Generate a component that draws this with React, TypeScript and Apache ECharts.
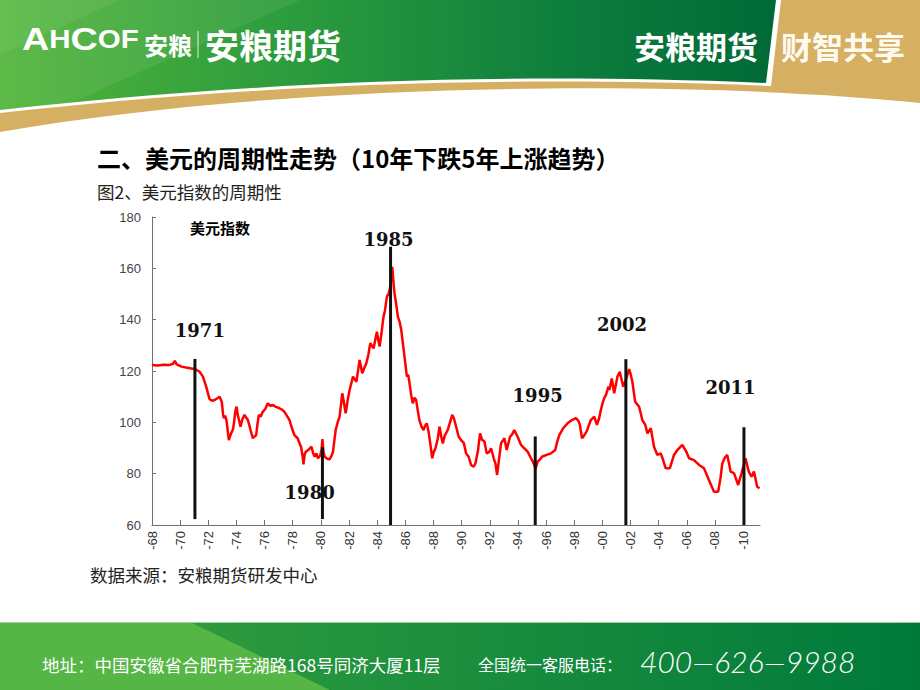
import React, { useEffect, useRef } from "react";
import * as echarts from "echarts";

// ---------- data ----------
const xTickLabels = ["-68","-70","-72","-74","-76","-78","-80","-82","-84","-86","-88","-90","-92","-94","-96","-98","-00","-02","-04","-06","-08","-10"];
const xFirstYear = 1968;
const xLastYear = 2011.2;
const yMin = 60;
const yMax = 180;
const yStep = 20;

const dxy1968to1979: [number, number][] = [
  [1968.0,122.3],[1968.4,122.1],[1968.8,122.4],[1969.2,122.3],[1969.5,122.8],[1969.62,124.0],[1969.75,122.6],[1970.1,121.7],[1970.5,121.3],[1970.8,121.0],
  [1971.05,120.8],[1971.38,119.7],[1971.62,117.8],[1971.85,113.9],[1972.09,109.0],[1972.3,108.4],[1972.45,108.7],[1972.65,109.4],[1972.8,110.0],[1972.96,108.0],
  [1973.05,103.0],[1973.11,101.6],[1973.2,102.6],[1973.3,100.5],[1973.46,93.1],[1973.55,94.6],[1973.62,95.7],[1973.75,97.2],[1973.82,99.5],[1973.92,104.3],
  [1974.01,106.1],[1974.08,103.2],[1974.15,101.6],[1974.29,98.3],[1974.42,101.2],[1974.57,102.9],[1974.7,101.8],[1974.81,100.9],[1974.92,98.8],[1975.0,97.0],
  [1975.16,93.8],[1975.28,94.5],[1975.4,95.0],[1975.5,99.5],[1975.59,102.9],[1975.72,102.2],[1975.87,104.1],[1976.05,105.2],[1976.23,107.4],[1976.4,106.4],
  [1976.58,106.8],[1976.8,106.0],[1977.06,105.5],[1977.25,104.9],[1977.41,104.1],[1977.6,102.4],[1977.77,100.9],[1977.95,97.6],[1978.12,95.0],[1978.35,93.8],
  [1978.5,91.6],[1978.59,90.5],[1978.7,86.8],[1978.76,83.6],[1978.85,87.6],[1978.94,88.6],[1979.1,89.2],[1979.33,90.5],[1979.45,88.0],[1979.56,86.6],
  [1979.68,87.9],[1979.79,86.0],[1979.95,87.0]
];

const dxy1980to1989: [number, number][] = [
  [1980.05,89.5],[1980.11,93.5],[1980.18,88.6],[1980.27,86.6],[1980.45,85.8],[1980.62,85.6],[1980.75,86.8],[1980.86,88.6],[1981.05,97.0],[1981.2,100.2],
  [1981.33,102.2],[1981.52,111.3],[1981.62,108.2],[1981.76,103.5],[1981.9,108.5],[1982.04,112.6],[1982.28,117.8],[1982.52,115.8],[1982.65,120.5],[1982.75,124.3],
  [1982.94,119.1],[1983.1,121.4],[1983.23,123.0],[1983.38,126.5],[1983.51,130.8],[1983.74,128.8],[1983.98,135.3],[1984.08,132.0],[1984.17,129.5],[1984.3,134.5],
  [1984.45,141.2],[1984.55,143.5],[1984.69,149.0],[1984.82,150.2],[1984.93,152.9],[1985.0,156.5],[1985.07,160.6],[1985.15,155.0],[1985.23,150.3],[1985.35,146.0],
  [1985.47,141.2],[1985.6,139.0],[1985.71,136.0],[1985.82,131.0],[1985.94,125.6],[1986.11,117.8],[1986.2,118.6],[1986.3,115.2],[1986.42,110.5],[1986.53,107.4],
  [1986.65,109.6],[1986.77,108.7],[1986.9,104.0],[1987.0,100.9],[1987.15,98.3],[1987.29,97.0],[1987.4,98.6],[1987.52,99.6],[1987.65,96.4],[1987.77,91.8],
  [1987.91,86.0],[1988.02,88.5],[1988.14,89.9],[1988.3,93.5],[1988.43,98.3],[1988.55,94.6],[1988.66,91.8],[1988.8,94.8],[1989.01,97.0],[1989.2,100.5],
  [1989.33,102.9],[1989.45,101.6],[1989.61,98.3],[1989.79,94.4],[1989.96,93.1]
];

const dxy1990to1999: [number, number][] = [
  [1990.15,92.0],[1990.32,87.9],[1990.5,86.6],[1990.67,83.4],[1990.85,82.7],[1990.98,84.0],[1991.15,88.6],[1991.31,95.7],[1991.45,93.2],[1991.62,92.5],
  [1991.78,87.9],[1991.95,88.4],[1992.09,89.9],[1992.28,86.0],[1992.4,84.0],[1992.52,79.5],[1992.65,85.4],[1992.8,91.8],[1993.04,93.8],[1993.2,89.2],
  [1993.44,94.4],[1993.6,95.4],[1993.74,97.0],[1993.98,94.4],[1994.22,91.2],[1994.45,89.9],[1994.69,88.6],[1994.93,86.0],[1995.1,84.2],[1995.25,82.0],
  [1995.4,84.7],[1995.55,85.4],[1995.71,86.6],[1996.04,87.3],[1996.35,87.9],[1996.65,89.2],[1996.8,92.6],[1996.94,95.0],[1997.22,97.7],[1997.52,99.6],
  [1997.84,100.9],[1998.12,101.6],[1998.3,100.6],[1998.4,99.0],[1998.55,93.8],[1998.64,94.4],[1998.87,96.3],[1999.18,100.9],[1999.42,102.2],[1999.61,99.0],
  [1999.77,101.6],[1999.89,104.8]
];

const dxy2000to2011: [number, number][] = [
  [2000.01,107.4],[2000.13,109.4],[2000.25,110.6],[2000.43,113.9],[2000.5,112.6],[2000.67,117.1],[2000.84,111.3],[2001.07,117.8],[2001.24,119.7],[2001.48,113.9],
  [2001.67,116.5],[2001.9,120.7],[2002.0,119.0],[2002.13,115.8],[2002.33,108.0],[2002.61,106.1],[2002.84,100.9],[2003.05,99.0],[2003.2,95.7],[2003.44,97.7],
  [2003.67,90.5],[2003.91,87.3],[2004.15,87.9],[2004.3,85.6],[2004.5,82.1],[2004.79,82.1],[2005.09,87.3],[2005.33,89.2],[2005.68,91.2],[2005.96,88.6],
  [2006.16,86.0],[2006.51,85.3],[2006.87,83.4],[2007.22,82.1],[2007.57,77.5],[2007.93,73.0],[2008.23,73.0],[2008.4,78.5],[2008.52,84.0],[2008.7,86.2],
  [2008.87,87.3],[2009.0,84.0],[2009.11,80.8],[2009.35,80.2],[2009.65,75.6],[2009.89,80.2],[2010.17,86.0],[2010.4,80.8],[2010.6,78.8],[2010.77,80.8],
  [2011.0,74.9],[2011.17,74.3]
];

// annotation markers (year of the vertical bar, its value span, and where its label sits)
const annoLabels = ["1971", "1980", "1985", "1995", "2002", "2011"];
const annoYears = [1971.05, 1980.11, 1984.95, 1995.23, 2001.67, 2010.06];
const annoTop = [124.7, 90.3, 168.4, 94.5, 124.6, 98.1];
const annoBottom = [62.3, 62.3, 60, 60, 60, 60];
const annoLabelYear = [1971.4, 1979.2, 1984.8, 1995.4, 2001.4, 2009.1];
const annoLabelValue = [135.6, 72.5, 171.4, 110.3, 138.3, 113.4];

// ---------- decorative shapes ----------
echarts.graphic.registerShape("hdrGold", echarts.graphic.extendPath("M0 0 H920 V103 C700 80 300 80 0 132 Z", {}));
echarts.graphic.registerShape("hdrWhite", echarts.graphic.extendPath("M0 0 H781 L771 86 C450 73 200 91 0 113 Z", {}));
echarts.graphic.registerShape("hdrGreen", echarts.graphic.extendPath("M0 0 H776 L766 83 C450 70 200 88 0 110 Z", {}));

const tickYears = xTickLabels.map((_, i) => xFirstYear + 2 * i);

function buildOption(): any {
  const series = [...dxy1968to1979, ...dxy1980to1989, ...dxy1990to1999, ...dxy2000to2011];
  const annoData = annoYears.map((y, i) => [y, annoTop[i], annoBottom[i], annoLabelYear[i], annoLabelValue[i], i]);

  const white = "#ffffff";
  const graphic: any[] = [
    { type: "hdrGold", x: 0, y: 0, style: { fill: "#d6b062" }, z: 1 },
    { type: "hdrWhite", x: 0, y: 0, style: { fill: "#ffffff" }, z: 2 },
    {
      type: "hdrGreen", x: 0, y: 0, z: 3,
      style: {
        fill: new echarts.graphic.LinearGradient(0, 0, 1, 0, [
          { offset: 0, color: "#52b53a" },
          { offset: 0.4, color: "#2a9a3e" },
          { offset: 0.75, color: "#0c7c3d" },
          { offset: 1, color: "#006a36" },
        ]),
      },
    },
    { type: "polygon", z: 4, shape: { points: [[0, 0], [300, 0], [60, 108], [0, 110]] }, style: { fill: "rgba(255,255,255,0.07)" } },
    { type: "polygon", z: 4, shape: { points: [[0, 0], [120, 0], [0, 55]] }, style: { fill: "rgba(255,255,255,0.06)" } },
    {
      type: "text", z: 5, x: 22, y: 55, scaleX: 1.18,
      style: {
        text: "{a|A}{b|H}{a|C}{b|OF}",
        verticalAlign: "bottom",
        rich: {
          a: { fill: white, fontSize: 32, fontWeight: 900, fontFamily: "Liberation Sans" },
          b: { fill: white, fontSize: 25, fontWeight: 900, fontFamily: "Liberation Sans" },
        },
      },
    },
    { type: "text", z: 5, x: 144, y: 44, style: { text: "安粮", fill: white, font: 'bold 24px "Noto Sans CJK SC"', verticalAlign: "middle" } },
    { type: "line", z: 5, shape: { x1: 198, y1: 31, x2: 198, y2: 58 }, style: { stroke: "rgba(255,255,255,0.85)", lineWidth: 1 } },
    { type: "text", z: 5, x: 205, y: 44, style: { text: "安粮期货", fill: white, font: 'bold 34px "Noto Sans CJK SC"', verticalAlign: "middle" } },
    { type: "text", z: 5, x: 634, y: 45, style: { text: "安粮期货", fill: white, font: 'bold 31px "Noto Sans CJK SC"', verticalAlign: "middle" } },
    { type: "text", z: 5, x: 781, y: 45, style: { text: "财智共享", fill: "#fffaf0", font: 'bold 31px "Noto Sans CJK SC"', verticalAlign: "middle" } },

    { type: "text", z: 5, x: 97, y: 157, style: { text: "二、美元的周期性走势（10年下跌5年上涨趋势）", fill: "#000", font: 'bold 24px "Noto Sans CJK SC"', verticalAlign: "middle" } },
    { type: "text", z: 5, x: 97, y: 191, style: { text: "图2、美元指数的周期性", fill: "#222", font: '17.5px "Noto Sans CJK SC"', verticalAlign: "middle" } },
    { type: "text", z: 5, x: 90, y: 574, style: { text: "数据来源：安粮期货研发中心", fill: "#222", font: '17.5px "Noto Sans CJK SC"', verticalAlign: "middle" } },
    { type: "text", z: 5, x: 190, y: 227, style: { text: "美元指数", fill: "#000", font: 'bold 15px "Noto Sans CJK SC"', verticalAlign: "middle" } },

    {
      type: "rect", z: 1, shape: { x: 0, y: 622, width: 920, height: 68 },
      style: {
        fill: new echarts.graphic.LinearGradient(0, 0, 1, 0, [
          { offset: 0, color: "#3fa43d" },
          { offset: 0.35, color: "#24943e" },
          { offset: 1, color: "#007a3b" },
        ]),
      },
    },
    { type: "polygon", z: 2, shape: { points: [[0, 622], [190, 622], [330, 690], [0, 690]] }, style: { fill: "#55b646" } },
    { type: "line", z: 3, shape: { x1: 0, y1: 622.5, x2: 920, y2: 622.5 }, style: { stroke: "#9fd09a", lineWidth: 1 } },
    { type: "text", z: 5, x: 42, y: 664, style: { text: "地址：中国安徽省合肥市芜湖路168号同济大厦11层", fill: white, font: '17.5px "Noto Sans CJK SC"', verticalAlign: "middle" } },
    { type: "text", z: 5, x: 478, y: 664, style: { text: "全国统一客服电话：", fill: white, font: '16px "Noto Sans CJK SC"', verticalAlign: "middle" } },
    { type: "text", z: 5, x: 640, y: 661, style: { text: "400—626—9988", fill: white, font: 'italic 300 30px "Lato"', verticalAlign: "middle" } },
  ];

  return {
    animation: false,
    backgroundColor: "#ffffff",
    graphic,
    grid: { left: 152, right: 160, top: 217, bottom: 165, containLabel: false },
    xAxis: {
      type: "value",
      min: xFirstYear,
      max: xLastYear,
      interval: 2,
      axisLine: { show: true, lineStyle: { color: "#707070", width: 1 } },
      axisTick: { show: true, inside: true, length: 5, lineStyle: { color: "#707070" }, customValues: tickYears },
      axisLabel: {
        rotate: 90,
        margin: 6,
        color: "#333",
        fontSize: 13,
        fontFamily: "Liberation Sans",
        customValues: tickYears,
        formatter: (v: number) => {
          const i = (v - xFirstYear) / 2;
          return Number.isInteger(Math.round(i * 1000) / 1000) ? xTickLabels[Math.round(i)] ?? "" : "";
        },
      },
      splitLine: { show: false },
    },
    yAxis: {
      type: "value",
      min: yMin,
      max: yMax,
      interval: yStep,
      axisLine: { show: true, lineStyle: { color: "#707070", width: 1 } },
      axisTick: { show: true, inside: true, length: 4, lineStyle: { color: "#707070" } },
      axisLabel: { color: "#444", fontSize: 13, fontFamily: "Liberation Sans", margin: 11 },
      splitLine: { show: false },
    },
    series: [
      {
        type: "line",
        data: series,
        showSymbol: false,
        symbol: "none",
        lineStyle: { color: "#ff0000", width: 2.5 },
        z: 2,
      },
      {
        type: "custom",
        data: annoData,
        encode: { x: 0, y: 1 },
        z: 3,
        renderItem: (_params: any, api: any) => {
          const x = api.value(0);
          const top = api.value(1);
          const bot = api.value(2);
          const idx = api.value(5);
          const p1 = api.coord([x, top]);
          const p2 = api.coord([x, bot]);
          const pl = api.coord([api.value(3), api.value(4)]);
          return {
            type: "group",
            children: [
              { type: "line", shape: { x1: p1[0], y1: p1[1], x2: p2[0], y2: p2[1] }, style: { stroke: "#111", lineWidth: 3 } },
              {
                type: "text", x: pl[0], y: pl[1],
                style: { text: annoLabels[idx], fill: "#111", font: 'bold 18px "DejaVu Serif"', align: "center", verticalAlign: "middle" },
              },
            ],
          };
        },
      },
    ],
  };
}

export default function App() {
  const ref = useRef<HTMLDivElement>(null);
  useEffect(() => {
    if (!ref.current) return;
    const chart = echarts.init(ref.current, null, { renderer: "svg" });
    chart.setOption(buildOption());
    return () => chart.dispose();
  }, []);
  return (
    <div
      ref={ref}
      style={{ position: "fixed", left: 0, top: 0, width: 920, height: 690, background: "#fff" }}
    />
  );
}
